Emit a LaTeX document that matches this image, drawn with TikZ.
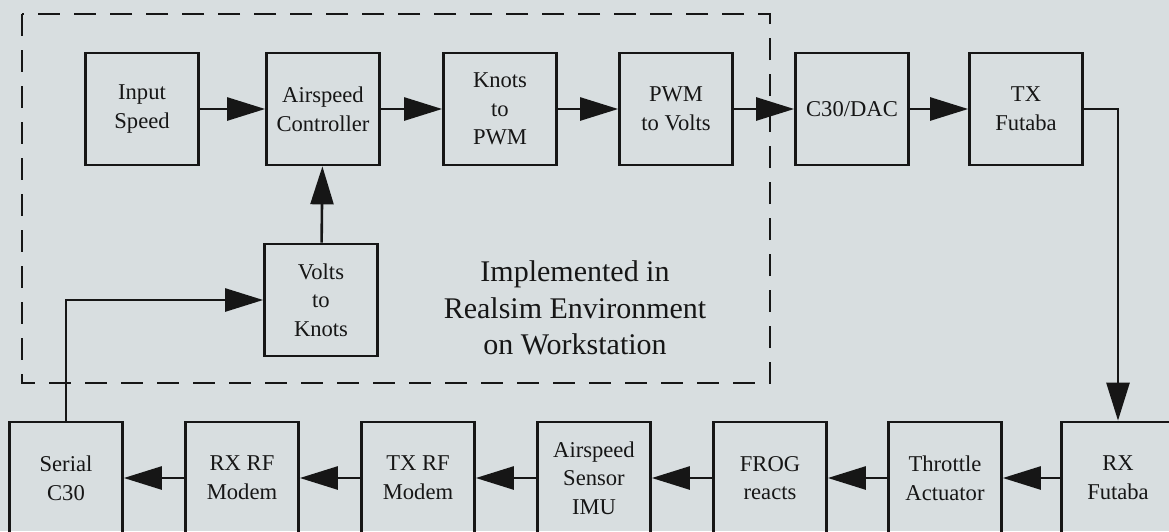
\documentclass[tikz,border=0pt]{standalone}
\usepackage{fontspec}
\setmainfont{Liberation Serif}
\usepackage{xcolor}
\usepackage{tikz}
\usetikzlibrary{arrows.meta,positioning,calc}
\definecolor{paper}{RGB}{216,222,224}
\definecolor{ink}{RGB}{22,22,22}
\tikzset{
    block/.style={draw=ink, rectangle, line width=1.35pt, minimum width=56.5pt, minimum height=56pt, text centered, align=center, text=ink, font=\fontsize{11.3}{14.3}\selectfont},
    arrow/.style={-{Triangle[length=19pt,width=11.5pt]}, line width=1.3pt, draw=ink},
    realsim/.style={draw=ink, line width=1.3pt, dash pattern=on 11pt off 7pt},
    note/.style={text=ink, align=center, font=\fontsize{15}{18.3}\selectfont}
}

\begin{document}
\begin{tikzpicture}[x=0.5pt, y=-0.5pt]
    \fill[paper] (0,0) rectangle (1169,531);
    \useasboundingbox (0,0) rectangle (1169,531);

    % workstation part
    \draw[realsim] (22,14) rectangle (770,383);
    \node[note] (impl) at (575,308) {Implemented in\\Realsim Environment\\on Workstation};

    % top row
    \node[block] (insp) at (142,109) {Input\\Speed};
    \node[block] (ctrl) at (323,109) {Airspeed\\Controller};
    \node[block] (k2p) at (500,109) {Knots\\to\\PWM};
    \node[block] (p2v) at (676,109) {PWM\\to Volts};
    \node[block] (dac) at (852,109) {C30/DAC};
    \node[block] (txf) at (1026,109) {TX\\Futaba};
    \node[block] (v2k) at (321,300) {Volts\\to\\Knots};

    % bottom row
    \node[block] (ser) at (66,478) {Serial\\C30};
    \node[block] (rxm) at (242,478) {RX RF\\Modem};
    \node[block] (txm) at (418,478) {TX RF\\Modem};
    \node[block] (sens) at (594,478) {Airspeed\\Sensor\\IMU};
    \node[block] (frog) at (770,478) {FROG\\reacts};
    \node[block] (thr) at (945,478) {Throttle\\Actuator};
    \node[block] (rxf) at (1118,478) {RX\\Futaba};

    \draw[arrow] (insp) -- (ctrl);
    \draw[arrow] (ctrl) -- (k2p);
    \draw[arrow] (k2p) -- (p2v);
    \draw[arrow] (p2v) -- (dac);
    \draw[arrow] (dac) -- (txf);
    \draw[arrow] (txf.east) -| (rxf.north);
    \draw[arrow] (rxf) -- (thr);
    \draw[arrow] (thr) -- (frog);
    \draw[arrow] (frog) -- (sens);
    \draw[arrow] (sens) -- (txm);
    \draw[arrow] (txm) -- (rxm);
    \draw[arrow] (rxm) -- (ser);
    \draw[arrow] (ser.north) |- (v2k.west);
    \draw[arrow] (v2k) -- (ctrl);
\end{tikzpicture}
\end{document}
